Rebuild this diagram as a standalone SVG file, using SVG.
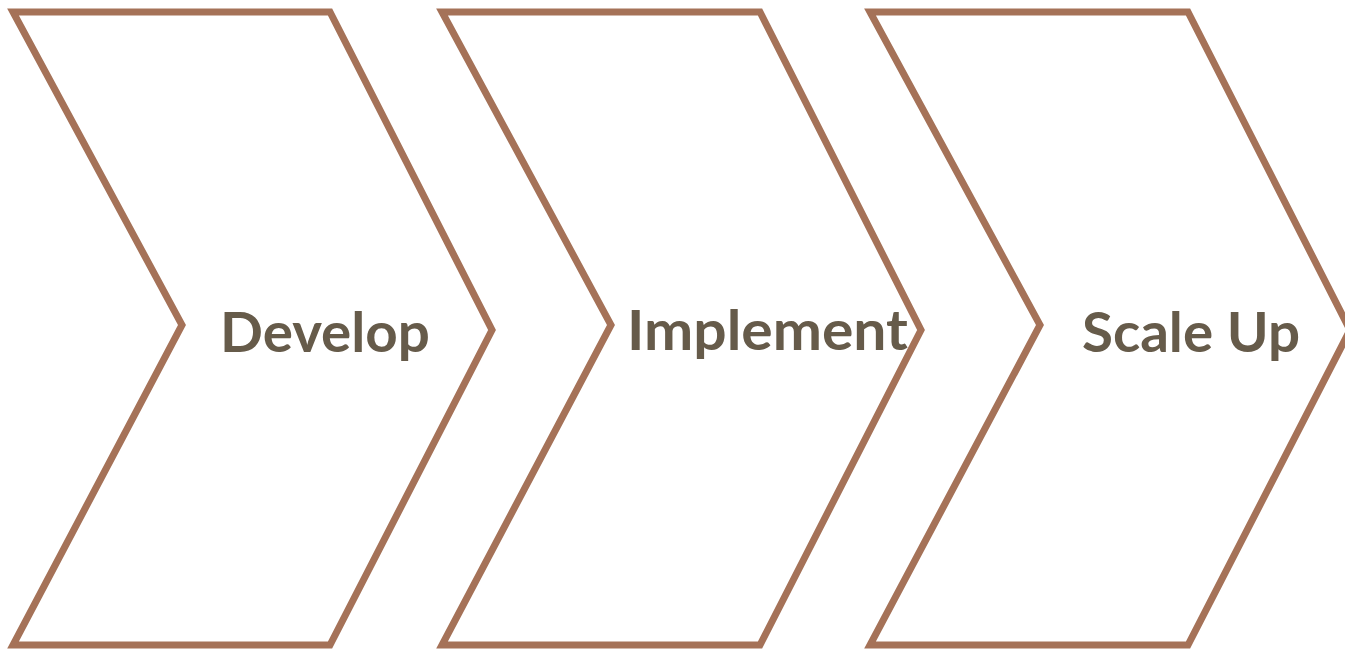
<svg xmlns="http://www.w3.org/2000/svg" width="1345" height="649" viewBox="0 0 1345 649">
  <style>
    .chev { fill: #ffffff; stroke: #A57258; stroke-width: 7; stroke-linejoin: miter; }
    .lbl { font-family: "Lato", "Open Sans", "Liberation Sans", sans-serif; font-weight: 700; font-size: 56px; fill: #665B4A; }
  </style>
  <rect width="1345" height="649" fill="#ffffff"/>
  <g id="step-develop">
    <polygon class="chev" points="13,12 330,12 492,330 330,645 13,645 182,325"/>
    <text class="lbl" x="220" y="352" textLength="210" lengthAdjust="spacingAndGlyphs">Develop</text>
  </g>
  <g id="step-implement">
    <polygon class="chev" points="442,12 760,12 921,330 760,645 442,645 611,325"/>
    <text class="lbl" x="627" y="350" textLength="281" lengthAdjust="spacingAndGlyphs">Implement</text>
  </g>
  <g id="step-scale-up">
    <polygon class="chev" points="870,12 1188,12 1350,330 1188,645 870,645 1040,325"/>
    <text class="lbl" x="1082" y="352" textLength="218" lengthAdjust="spacingAndGlyphs">Scale Up</text>
  </g>
  <g id="connectors"/>
</svg>
